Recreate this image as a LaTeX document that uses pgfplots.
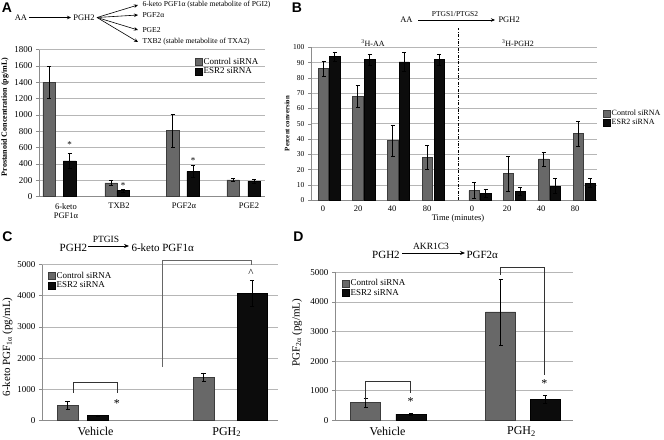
\documentclass[border=0pt]{standalone}
\usepackage{fontspec}
\setmainfont{Liberation Serif}
\newfontfamily\panelfont{Liberation Sans}
\usepackage{pgfplots}
\pgfplotsset{compat=1.18}
\usetikzlibrary{arrows.meta}
\definecolor{bargray}{RGB}{104,104,104}
\definecolor{baredge}{RGB}{60,60,60}
\definecolor{barblack}{RGB}{12,12,12}
\definecolor{gridgray}{RGB}{182,182,182}
\definecolor{axisgray}{RGB}{140,140,140}
\newcommand{\fs}[2]{\fontsize{#1bp}{#2bp}\selectfont}
\pgfplotsset{
  exstyle/.style={
    scale only axis, axis lines*=left,
    axis line style={axisgray, line width=0.6bp},
    ymajorgrids, grid style={gridgray, line width=0.8bp},
    tick align=outside, major tick length=3bp,
    ytick style={axisgray, line width=0.6bp}, xtick style={draw=none},
    enlargelimits=false, clip=false,
    /pgf/number format/assume math mode=true,
    /pgf/number format/1000 sep={},
    legend cell align=left,
    legend style={draw=none, fill=none, inner sep=0pt, row sep=0pt, nodes={inner sep=1bp}},
    error bars/y dir=both, error bars/y explicit,
    error bars/error bar style={black, line width=0.6bp},
    error bars/error mark options={black, rotate=90, mark size=2bp, line width=0.6bp},
  },
  sq/.style={legend image code/.code={\draw[##1, line width=0.5bp] (0bp,-3.5bp) rectangle (7bp,3.5bp);}},
  gbar/.style={ybar, bar shift=0pt, bar width=#1, fill=bargray, draw=baredge, line width=0.5bp, sq},
  kbar/.style={ybar, bar shift=0pt, bar width=#1, fill=barblack, draw=black, line width=0.5bp, sq},
}
\begin{document}
\begin{tikzpicture}
\useasboundingbox (0,0) rectangle (664bp,-440bp);

% ---------------- Panel A ----------------
\begin{axis}[exstyle, at={(39bp,-196.7bp)}, anchor=south west,
  width=226bp, height=147bp, xmin=0, xmax=226, ymin=0, ymax=1800,
  ytick={0,200,...,1800}, yticklabel style={font=\fs{9}{10}},
  xtick={27,80,145,210},
  xticklabels={{6-keto\\PGF1α}, TXB2, PGF2α, PGE2},
  xticklabel style={font=\fs{8.5}{9.5}, align=center},
  ylabel={\bfseries Prostanoid Concentration (pg/mL)},
  ylabel style={at={(axis description cs:-0.150,0.542)}, anchor=center, font=\fs{8}{9}},
  legend style={at={(axis description cs:0.69,0.95)}, anchor=north west, font=\fs{9}{10}}]
\addplot[gbar=12.5] coordinates {(10,1400) +- (0,200) (72,170) +- (0,28) (133.5,810) +- (0,200) (194,205) +- (0,20)};
\addlegendentry{Control siRNA}
\addplot[kbar=12.5] coordinates {(30.5,440) +- (0,90) (84,75) +- (0,15) (154,310) +- (0,70) (215,190) +- (0,20)};
\addlegendentry{ESR2 siRNA}
\node[font=\fs{9}{10}] at (axis cs:30.5,640) {*};
\node[font=\fs{9}{10}] at (axis cs:84,131) {*};
\node[font=\fs{9}{10}] at (axis cs:154,437) {*};
\end{axis}

% ---------------- Panel B ----------------
\begin{axis}[exstyle, at={(311bp,-200.3bp)}, anchor=south west,
  width=286bp, height=153bp, xmin=0, xmax=286, ymin=0, ymax=100,
  ytick={0,10,...,100}, yticklabel style={font=\fs{7.5}{8}},
  xtick={12,47,81,116,161,196,230,264},
  xticklabels={0,20,40,80,0,20,40,80},
  xticklabel style={font=\fs{8.5}{9}, yshift=1bp},
  xlabel={Time (minutes)},
  xlabel style={at={(axis description cs:0.514,-0.118)}, anchor=center, font=\fs{8.5}{9}},
  ylabel={\bfseries Percent conversion},
  ylabel style={at={(axis description cs:-0.084,0.502)}, anchor=center, font=\fs{6.8}{7}},
  legend style={at={(axis description cs:1.021,0.597)}, anchor=north west, font=\fs{8}{9}}]
\addplot[gbar=10.3] coordinates {(12.5,86) +- (0,5) (46.7,68) +- (0,7) (81.7,39) +- (0,10) (116.3,28) +- (0,8)
  (163,6.3) +- (0,5.3) (197.3,17.4) +- (0,11.5) (232.7,27) +- (0,4.5) (267.3,43.6) +- (0,8)};
\addlegendentry{Control siRNA}
\addplot[kbar=10.3] coordinates {(23.7,94) +- (0,3) (58.7,92) +- (0,3.5) (93.3,90.5) +- (0,6) (128.2,92) +- (0,3.5)
  (174.7,4.6) +- (0,2.4) (209.3,6) +- (0,2.5) (244.3,9.3) +- (0,5) (279,11.3) +- (0,3)};
\addlegendentry{ESR2 siRNA}
\draw[black, line width=0.8bp, dash pattern=on 3bp off 1.5bp on 0.8bp off 1.5bp] (axis cs:147,0) -- (axis cs:147,112.6);
\node[font=\fs{8}{9}] at (axis cs:62,102.8) {\textsuperscript{3}H-AA};
\node[font=\fs{8}{9}] at (axis cs:207,102.8) {\textsuperscript{3}H-PGH2};
\end{axis}

% ---------------- Panel C ----------------
\begin{axis}[exstyle, at={(42bp,-420.7bp)}, anchor=south west,
  width=236bp, height=156.2bp, xmin=0, xmax=236, ymin=0, ymax=5000,
  ytick={0,1000,...,5000}, yticklabel style={font=\fs{9}{10}},
  xtick={53.5,184.7}, xticklabels={Vehicle, PGH\textsubscript{2}},
  xticklabel style={font=\fs{12}{13}},
  ylabel={6-keto PGF\textsubscript{1α} (pg/mL)},
  ylabel style={at={(axis description cs:-0.146,0.472)}, anchor=center, font=\fs{11}{12}},
  legend style={at={(axis description cs:0.025,0.96)}, anchor=north west, font=\fs{9}{10}}]
\addplot[gbar=21] coordinates {(25.5,490) +- (0,120) (161.5,1390) +- (0,140)};
\addlegendentry{Control siRNA}
\addplot[kbar=21] coordinates {(55.5,160) +- (0,25)};
\addlegendentry{ESR2 siRNA}
\addplot[kbar=30, forget plot] coordinates {(210,4080) +- (0,420)};
\draw[black!80, line width=0.8bp] (axis cs:31,887) -- (axis cs:31,1239) -- (axis cs:75,1239) -- (axis cs:75,887);
\draw[black!60, line width=0.8bp] (axis cs:120,1719) -- (axis cs:120,5144) -- (axis cs:209,5144) -- (axis cs:209,4984);
\node[font=\fs{12}{13}] at (axis cs:75,560) {*};
\node[font=\fs{11}{12}] at (axis cs:209,4740) {\^{}};
\end{axis}

% ---------------- Panel D ----------------
\begin{axis}[exstyle, at={(335bp,-420.3bp)}, anchor=south west,
  width=238bp, height=148bp, xmin=0, xmax=238, ymin=0, ymax=5000,
  ytick={0,1000,...,5000}, yticklabel style={font=\fs{9}{10}},
  xtick={52.5,186.5}, xticklabels={Vehicle, PGH\textsubscript{2}},
  xticklabel style={font=\fs{12}{13}},
  ylabel={PGF\textsubscript{2α} (pg/mL)},
  ylabel style={at={(axis description cs:-0.160,0.59)}, anchor=center, font=\fs{11}{12}},
  legend style={at={(axis description cs:0.029,0.96)}, anchor=north west, font=\fs{9}{10}}]
\addplot[gbar=30] coordinates {(30.7,600) +- (0,150) (165.7,3660) +- (0,1120)};
\addlegendentry{Control siRNA}
\addplot[kbar=30] coordinates {(75.8,205) +- (0,30) (210,710) +- (0,135)};
\addlegendentry{ESR2 siRNA}
\draw[black!80, line width=0.8bp] (axis cs:30.7,628) -- (axis cs:30.7,1328) -- (axis cs:75.7,1328) -- (axis cs:75.7,932);
\draw[black!80, line width=0.8bp] (axis cs:165,4908) -- (axis cs:165,5168) -- (axis cs:209.3,5168) -- (axis cs:209.3,1530);
\node[font=\fs{12}{13}] at (axis cs:75.7,620) {*};
\node[font=\fs{12}{13}] at (axis cs:209.3,1230) {*};
\end{axis}

% ---------------- annotations ----------------
\begin{scope}[x=1bp, y=-1bp]
\node[font=\panelfont\bfseries\fs{14}{14}] at (7,7.5) {A};
\node[font=\panelfont\bfseries\fs{14}{14}] at (297,7.5) {B};
\node[font=\panelfont\bfseries\fs{14}{14}] at (7.5,237) {C};
\node[font=\panelfont\bfseries\fs{14}{14}] at (298.5,237) {D};
% A diagram
\node[font=\fs{8.5}{9}] at (21,17.5) {AA};
\draw[line width=0.6bp, -{Stealth[length=4bp,width=3.5bp]}] (29,17.5) -- (71,17.5);
\node[font=\fs{8.5}{9}] at (84,17.5) {PGH2};
\foreach \yy in {5,15,30,42} {\draw[line width=0.6bp, -{Stealth[length=4bp,width=3.5bp]}] (97,17.5) -- (138,\yy);}
\node[font=\fs{7.6}{8}, anchor=west] at (139,5) {6-keto PGF1α (stable metabolite of PGI2)};
\node[font=\fs{7.6}{8}, anchor=west] at (139,15) {PGF2α};
\node[font=\fs{7.6}{8}, anchor=west] at (139,30) {PGE2};
\node[font=\fs{7.6}{8}, anchor=west] at (139,42) {TXB2 (stable metabolite of TXA2)};
% B diagram
\node[font=\fs{8.5}{9}] at (406.5,20) {AA};
\draw[line width=0.6bp, -{Stealth[length=4bp,width=3.5bp]}] (418,20) -- (495,20);
\node[font=\fs{7.5}{8}] at (455,14.5) {PTGS1/PTGS2};
\node[font=\fs{8.5}{9}, anchor=west] at (495,20) {PGH2};
% C diagram
\node[font=\fs{11}{12}] at (73.5,248) {PGH2};
\draw[line width=0.7bp, -{Stealth[length=5bp,width=4bp]}] (88,246) -- (129,246);
\node[font=\fs{9.5}{10}] at (106,239) {PTGIS};
\node[font=\fs{11}{12}, anchor=west] at (128,248) {6-keto PGF1α};
% D diagram
\node[font=\fs{11}{12}] at (386,255) {PGH2};
\draw[line width=0.7bp, -{Stealth[length=5bp,width=4bp]}] (402,253) -- (465,253);
\node[font=\fs{9.5}{10}] at (431,246) {AKR1C3};
\node[font=\fs{11}{12}, anchor=west] at (463,255) {PGF2α};
\end{scope}
\end{tikzpicture}
\end{document}
